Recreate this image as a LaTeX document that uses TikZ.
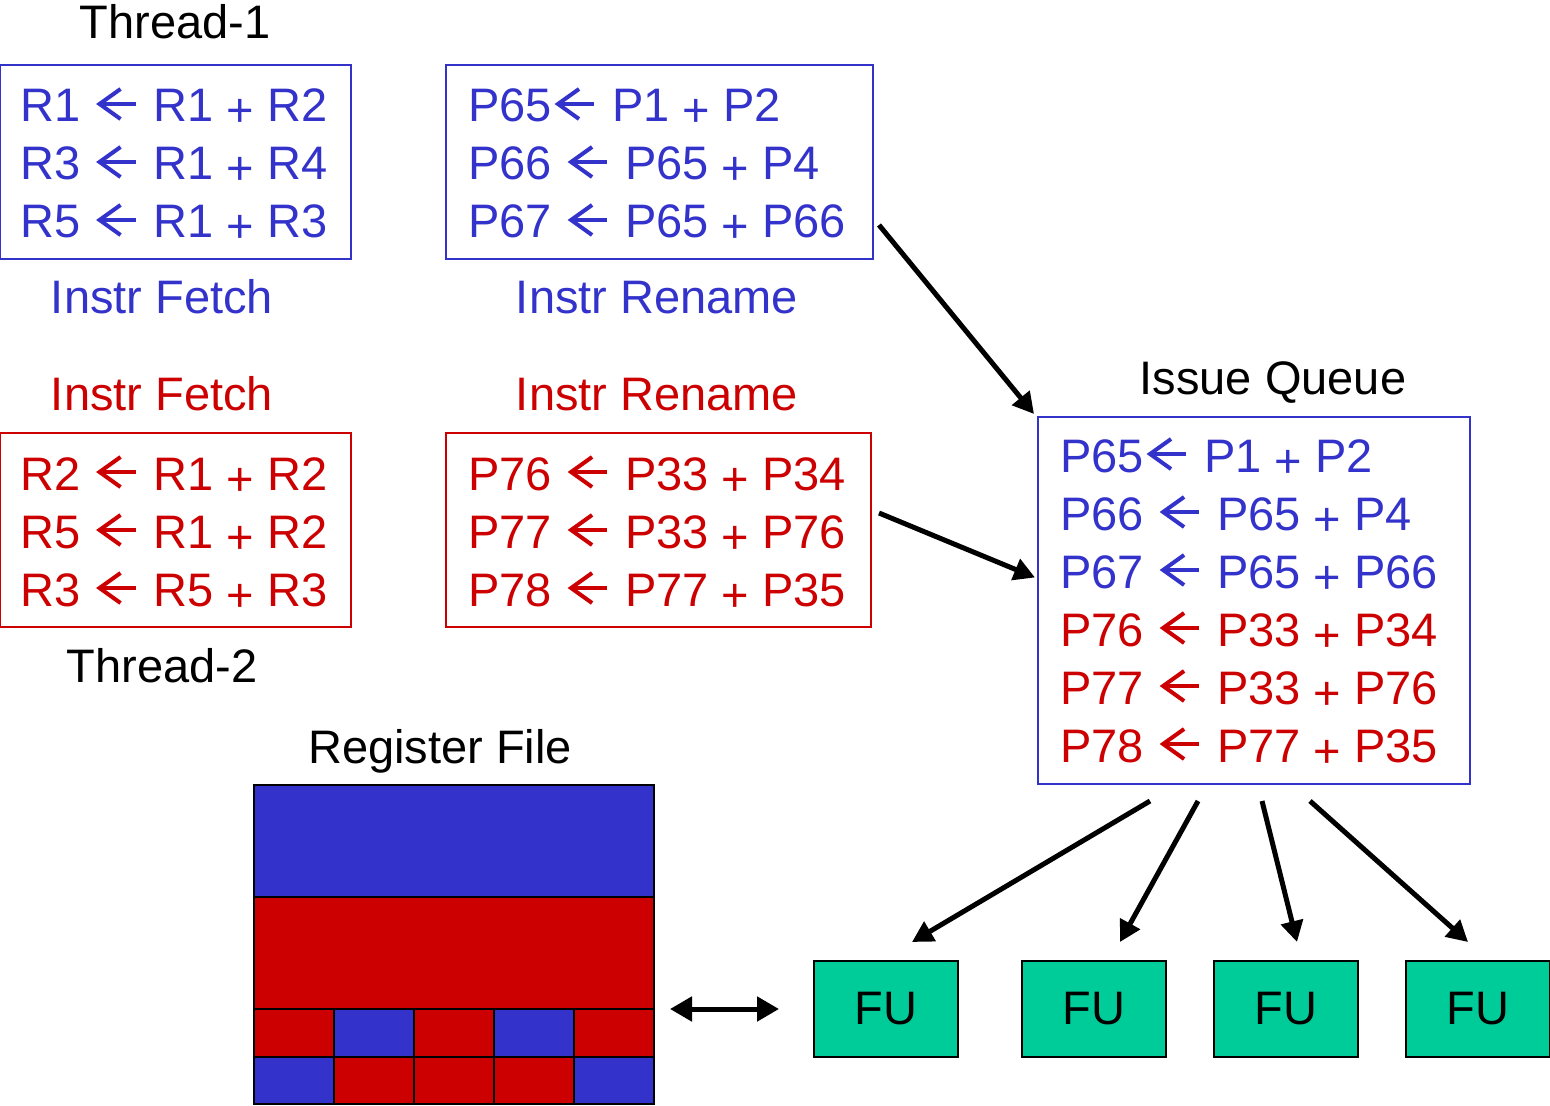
\documentclass[tikz,border=0pt]{standalone}
\usepackage{fontspec}
\setmainfont{Liberation Sans}
\usetikzlibrary{arrows.meta}
\definecolor{myblue}{RGB}{51,51,204}
\definecolor{myred}{RGB}{204,0,0}
\definecolor{fugreen}{RGB}{0,204,153}
\newcommand{\larr}{\tikz[baseline=0pt]{\useasboundingbox (-2.5pt,0pt) rectangle (21pt,16pt);
  \draw[line width=2pt] (0.8pt,9pt) -- (18.5pt,9pt);
  \draw[line width=2pt, line join=miter, line cap=butt] (11pt,16.5pt) -- (0.5pt,9pt) -- (11pt,1.5pt);}}
\newcommand{\pl}{\raisebox{-2.5pt}{+}}
\begin{document}
\begin{tikzpicture}[x=0.5pt,y=-0.5pt,
  every node/.style={font=\fontsize{23.5}{28}\selectfont, inner sep=0pt},
  codebox/.style={draw, line width=1pt, minimum height=97pt},
  ln/.style={anchor=base west},
  lbl/.style={anchor=base},
  fu/.style={draw, line width=1pt, fill=fugreen, minimum width=72pt, minimum height=48pt},
  conn/.style={line width=2.5pt, -{Triangle[length=10.5pt,width=11pt]}},
  dbl/.style={line width=2.5pt, {Triangle[length=11pt,width=12pt]}-{Triangle[length=11pt,width=12pt]}}
]
\useasboundingbox (0,0) rectangle (1550,1106);

% Thread 1
\node[lbl] (th1) at (175,39) {Thread-1};
\node[codebox, draw=myblue, minimum width=175.5pt] (f1) at (175.5,162) {};
\node[ln, myblue] (f1a) at (20,122) {R1 \larr\ R1 \pl\ R2};
\node[ln, myblue] (f1b) at (20,180) {R3 \larr\ R1 \pl\ R4};
\node[ln, myblue] (f1c) at (20,238) {R5 \larr\ R1 \pl\ R3};
\node[lbl, myblue] (if1) at (162,314) {Instr Fetch};

\node[codebox, draw=myblue, minimum width=213.5pt] (r1) at (659.5,162) {};
\node[ln, myblue] (r1a) at (468,122) {P65\larr\ P1 \pl\ P2};
\node[ln, myblue] (r1b) at (468,180) {P66 \larr\ P65 \pl\ P4};
\node[ln, myblue] (r1c) at (468,238) {P67 \larr\ P65 \pl\ P66};
\node[lbl, myblue] (ir1) at (657,314) {Instr Rename};

% Thread 2
\node[lbl, myred] (if2) at (162,410) {Instr Fetch};
\node[lbl, myred] (ir2) at (657,410) {Instr Rename};
\node[codebox, draw=myred, minimum width=175.5pt] (f2) at (175.5,530) {};
\node[ln, myred] (f2a) at (20,490) {R2 \larr\ R1 \pl\ R2};
\node[ln, myred] (f2b) at (20,548) {R5 \larr\ R1 \pl\ R2};
\node[ln, myred] (f2c) at (20,606) {R3 \larr\ R5 \pl\ R3};
\node[lbl] (th2) at (162,682) {Thread-2};

\node[codebox, draw=myred, minimum width=212.5pt] (r2) at (658.5,530) {};
\node[ln, myred] (r2a) at (468,490) {P76 \larr\ P33 \pl\ P34};
\node[ln, myred] (r2b) at (468,548) {P77 \larr\ P33 \pl\ P76};
\node[ln, myred] (r2c) at (468,606) {P78 \larr\ P77 \pl\ P35};

% Issue queue
\node[lbl] (iqt) at (1273,394) {Issue Queue};
\node[draw=myblue, line width=1pt, minimum width=216pt, minimum height=183.5pt] (iq) at (1254,600.5) {};
\node[ln, myblue] (q1) at (1060,472) {P65\larr\ P1 \pl\ P2};
\node[ln, myblue] (q2) at (1060,530) {P66 \larr\ P65 \pl\ P4};
\node[ln, myblue] (q3) at (1060,588) {P67 \larr\ P65 \pl\ P66};
\node[ln, myred] (q4) at (1060,646) {P76 \larr\ P33 \pl\ P34};
\node[ln, myred] (q5) at (1060,704) {P77 \larr\ P33 \pl\ P76};
\node[ln, myred] (q6) at (1060,762) {P78 \larr\ P77 \pl\ P35};

% Register file
\node[lbl] (rft) at (440,763) {Register File};
\fill[myblue] (254,785) rectangle (654,897);
\fill[myred] (254,897) rectangle (654,1009);
\fill[myred] (254,1009) rectangle (334,1057);
\fill[myblue] (334,1009) rectangle (414,1057);
\fill[myred] (414,1009) rectangle (494,1057);
\fill[myblue] (494,1009) rectangle (574,1057);
\fill[myred] (574,1009) rectangle (654,1057);
\fill[myblue] (254,1057) rectangle (334,1105);
\fill[myred] (334,1057) rectangle (574,1105);
\fill[myblue] (574,1057) rectangle (654,1105);
\draw[line width=1.25pt] (254,785) rectangle (654,1104)
  (254,897) -- (654,897) (254,1009) -- (654,1009) (254,1057) -- (654,1057)
  (334,1009) -- (334,1104) (414,1009) -- (414,1104) (494,1009) -- (494,1104) (574,1009) -- (574,1104);
\node[minimum width=200pt, minimum height=160pt] (rf) at (454,945) {};
\coordinate (rfp) at (654,1009);

% FUs
\node[fu] (fu1) at (886,1009) {FU};
\node[fu] (fu2) at (1094,1009) {FU};
\node[fu] (fu3) at (1286,1009) {FU};
\node[fu] (fu4) at (1478,1009) {FU};

% connectors
\draw[conn] ([xshift=2.5pt,yshift=-31.5pt]r1.east) -- ([xshift=-1.5pt,yshift=1pt]iq.north west);
\draw[conn] ([xshift=3.5pt,yshift=8.5pt]r2.east) -- ([xshift=-1pt,yshift=11.5pt]iq.west);
\draw[conn] ([xshift=-52pt,yshift=-8pt]iq.south) -- ([xshift=13pt,yshift=9pt]fu1.north);
\draw[conn] ([xshift=-28pt,yshift=-8pt]iq.south) -- ([xshift=13pt,yshift=9pt]fu2.north);
\draw[conn] ([xshift=4pt,yshift=-8pt]iq.south) -- ([xshift=5.5pt,yshift=9pt]fu3.north);
\draw[conn] ([xshift=28pt,yshift=-8pt]iq.south) -- ([xshift=-5pt,yshift=9pt]fu4.north);
\draw[dbl] ([xshift=8pt]rfp) -- ([xshift=-17pt]fu1.west);
\end{tikzpicture}
\end{document}
